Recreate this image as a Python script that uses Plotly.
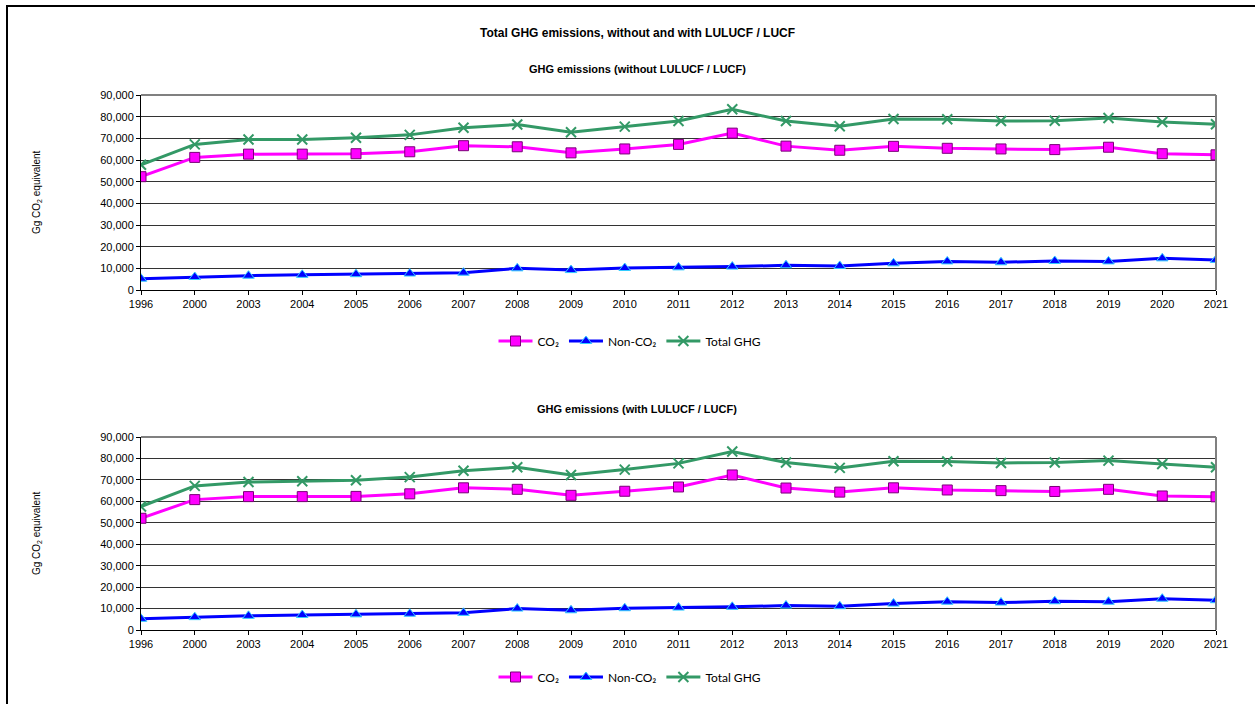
import plotly.graph_objects as go

years = ["1996", "2000", "2003", "2004", "2005", "2006", "2007", "2008", "2009", "2010",
         "2011", "2012", "2013", "2014", "2015", "2016", "2017", "2018", "2019", "2020", "2021"]

# Without LULUCF / LUCF
co2_wo = [52300, 61200, 62700, 62700, 62900, 63800, 66600, 66100, 63300, 65100,
          67200, 72400, 66400, 64500, 66300, 65400, 65100, 64800, 65900, 62900, 62400]
nonco2_wo = [5200, 6000, 6600, 7000, 7300, 7600, 8000, 10000, 9200, 10150,
             10450, 10800, 11400, 11100, 12300, 13200, 12800, 13400, 13200, 14600, 13900]
total_wo = [57800, 67200, 69500, 69500, 70300, 71600, 74900, 76400, 72800, 75400,
            78000, 83400, 78000, 75600, 78900, 78800, 78000, 78100, 79400, 77500, 76500]

# With LULUCF / LUCF
co2_w = [52100, 60800, 62200, 62200, 62300, 63500, 66300, 65600, 62800, 64700,
         66700, 72300, 66200, 64300, 66300, 65300, 65000, 64600, 65600, 62500, 62100]
nonco2_w = [5200, 6000, 6600, 7000, 7300, 7600, 8000, 10000, 9200, 10150,
            10450, 10800, 11400, 11100, 12300, 13200, 12800, 13400, 13200, 14600, 13900]
total_w = [57600, 67200, 69000, 69400, 69800, 71300, 74300, 75900, 72300, 74800,
           77700, 83200, 78100, 75600, 78700, 78600, 77900, 78100, 79000, 77400, 75900]

main_title = "Total GHG emissions, without and with LULUCF / LUCF"
sub1 = "GHG emissions (without LULUCF / LUCF)"
sub2 = "GHG emissions (with LULUCF / LUCF)"
ylab = "Gg CO<sub>2</sub> equivalent"

W, H = 1255, 704
def py(pix):
    return 1 - pix / H
def px(pix):
    return pix / W

fig = go.Figure()

def add_series(co2, non, tot, xa, ya, legend):
    fig.add_trace(go.Scatter(x=years, y=co2, name="CO₂", mode="lines+markers",
                             line=dict(color="#FF00FF", width=3),
                             marker=dict(symbol="square", size=10, color="#FF00FF",
                                         line=dict(color="#7A0078", width=1)),
                             xaxis=xa, yaxis=ya, legend=legend))
    fig.add_trace(go.Scatter(x=years, y=non, name="Non-CO₂", mode="lines+markers",
                             line=dict(color="#0000FF", width=3),
                             marker=dict(symbol="triangle-up", size=10, color="#0000FF",
                                         line=dict(color="#33CCFF", width=1)),
                             xaxis=xa, yaxis=ya, legend=legend))
    fig.add_trace(go.Scatter(x=years, y=tot, name="Total GHG", mode="lines+markers",
                             line=dict(color="#339966", width=3),
                             marker=dict(symbol="x-thin", size=10, color="#339966",
                                         line=dict(color="#339966", width=2)),
                             xaxis=xa, yaxis=ya, legend=legend))

add_series(co2_wo, nonco2_wo, total_wo, "x", "y", "legend")
add_series(co2_w, nonco2_w, total_w, "x2", "y2", "legend2")

tickfont = dict(family="Liberation Sans, Arial", size=11, color="#000")
xcommon = dict(type="category", range=[0, 20], showgrid=False, showline=True,
               linecolor="#000", linewidth=1, ticks="outside", ticklen=4,
               tickcolor="#000", tickfont=tickfont, mirror=False, zeroline=False,
               automargin=False)
ycommon = dict(range=[0, 90000], dtick=10000, tickformat=",d", showgrid=True,
               gridcolor="#333", gridwidth=1, showline=True, linecolor="#000",
               linewidth=1, ticks="outside", ticklen=4, tickcolor="#000",
               tickfont=tickfont, zeroline=False, automargin=False)

legfont = dict(family="Lato, Carlito, sans-serif", size=12, color="#000")
xd = [px(141), px(1216)]
fig.update_layout(
    width=W, height=H, margin=dict(l=0, r=0, t=0, b=0, pad=0, autoexpand=False),
    paper_bgcolor="white", plot_bgcolor="white", showlegend=True,
    xaxis=dict(domain=xd, anchor="y", **xcommon),
    yaxis=dict(domain=[py(290), py(95)], anchor="x", **ycommon),
    xaxis2=dict(domain=xd, anchor="y2", **xcommon),
    yaxis2=dict(domain=[py(630), py(437)], anchor="x2", **ycommon),
    legend=dict(orientation="h", x=px(630), xanchor="center", y=py(341), yanchor="middle",
                font=legfont, itemwidth=34,
                bgcolor="rgba(0,0,0,0)", tracegroupgap=0),
    legend2=dict(orientation="h", x=px(630), xanchor="center", y=py(677), yanchor="middle",
                 font=legfont, itemwidth=34,
                 bgcolor="rgba(0,0,0,0)", tracegroupgap=0),
    font=dict(family="Liberation Sans, Arial"),
)

# Plot-area borders (top and right, gray)
for (yt, yb) in [(95, 290), (437, 630)]:
    fig.add_shape(type="line", xref="paper", yref="paper", x0=px(141), x1=px(1216),
                  y0=py(yt), y1=py(yt), line=dict(color="#808080", width=2))
    fig.add_shape(type="line", xref="paper", yref="paper", x0=px(1216), x1=px(1216),
                  y0=py(yt), y1=py(yb), line=dict(color="#808080", width=2))

# Outer border
fig.add_shape(type="rect", xref="paper", yref="paper", x0=px(7), x1=1.01,
              y0=-0.02, y1=py(6), line=dict(color="#000", width=2))

fig.add_annotation(text="<b>" + main_title + "</b>", xref="paper", yref="paper",
                   x=px(637), y=py(33), xanchor="center", yanchor="middle", showarrow=False,
                   font=dict(family="Liberation Sans, Arial", size=12, color="#000"))
fig.add_annotation(text="<b>" + sub1 + "</b>", xref="paper", yref="paper",
                   x=px(637), y=py(69), xanchor="center", yanchor="middle", showarrow=False,
                   font=dict(family="Liberation Sans, Arial", size=11, color="#000"))
fig.add_annotation(text="<b>" + sub2 + "</b>", xref="paper", yref="paper",
                   x=px(637), y=py(409), xanchor="center", yanchor="middle", showarrow=False,
                   font=dict(family="Liberation Sans, Arial", size=11, color="#000"))
for yc in (192, 533):
    fig.add_annotation(text=ylab, xref="paper", yref="paper", textangle=-90,
                       x=px(37), y=py(yc), xanchor="center", yanchor="middle",
                       showarrow=False,
                       font=dict(family="Liberation Sans, Arial", size=10, color="#000"))

fig.write_html("out.html", config={"displayModeBar": False},
               post_script="document.body.style.margin='0';document.body.style.overflow='hidden';")
